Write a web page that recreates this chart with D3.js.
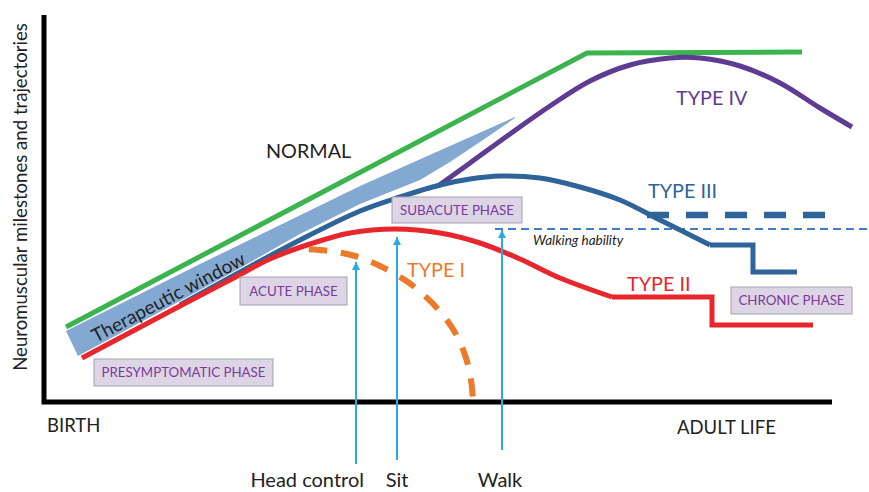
<!DOCTYPE html>
<html><head><meta charset="utf-8">
<script src="https://cdn.jsdelivr.net/npm/d3@7"></script>
<style>html,body{margin:0;padding:0;background:#fff;} svg{display:block;font-family:Lato, "Open Sans", sans-serif;}</style>
</head><body><svg id="c" width="869" height="492"></svg>
<script>
// ---- data (age units on x, milestone level on y) ----
const normal = [[2.2,7.5],[54.3,34.9],[75.8,35.0]];
const windowTop = [[2.2,7.1],[15.6,13.8],[31.6,21.6],[47.1,28.5]];
const windowBottom = [[47.1,28.4],[43.6,26.0],[40.6,24.0],[37.6,22.2],[31.6,19.8],[25.6,16.8],[19.6,13.4],[13.6,10.1],[3.4,4.6]];
const type2Curve = [[3.8,4.4],[13.6,9.6],[18.6,12.2],[22.6,14.3],[26.6,15.8],[30.6,16.9],[35.1,17.3],[39.6,16.9],[43.6,15.9],[47.6,14.3],[51.6,12.4],[56.8,10.5]];
const type2Tail = [[56.8,10.5],[66.8,10.5],[66.8,7.7],[76.9,7.7]];
const type3Curve = [[13.6,9.7],[19.6,13.0],[25.6,16.2],[31.6,19.1],[35.6,20.5],[39.6,21.7],[42.6,22.3],[45.6,22.6],[49.6,22.4],[53.6,21.5],[57.6,20.2],[61.6,18.2],[66.6,15.7]];
const type3Tail = [[66.6,15.7],[70.9,15.7],[70.9,13.0],[75.3,13.0]];
const type3Treated = [[60.3,18.7],[78.4,18.7]];
const type4 = [[39.4,21.6],[42.6,23.9],[46.6,26.8],[50.6,29.6],[54.6,32.1],[58.6,33.7],[62.6,34.4],[65.6,34.4],[69.6,33.6],[73.6,31.9],[77.6,29.4],[80.8,27.5]];
const type1 = [[26.1,15.3],[28.6,15.1],[31.1,14.6],[33.6,13.6],[36.1,12.2],[38.1,10.6],[39.9,8.7],[41.3,6.6],[42.2,4.4],[42.7,2.2],[42.9,0.2]];
const walkingLevel = 17.3;
const walkingRange = [45.1, 82.5];
const milestones = ["Head control","Sit","Walk"];
const milestoneAge = [31.2, 35.3, 45.8];
const milestoneLevel = [14.0, 16.5, 17.2];
const phases = ["PRESYMPTOMATIC PHASE","ACUTE PHASE","SUBACUTE PHASE","CHRONIC PHASE"];
const typeLabels = ["NORMAL","TYPE I","TYPE II","TYPE III","TYPE IV"];

// ---- scales ----
const svg = d3.select("#c");
const x = d3.scaleLinear().domain([0, 78.8]).range([44, 832]);
const y = d3.scaleLinear().domain([0, 38.7]).range([402, 15]);

const lineLin = d3.line().x(d=>x(d[0])).y(d=>y(d[1]));
const lineCurve = d3.line().x(d=>x(d[0])).y(d=>y(d[1])).curve(d3.curveCatmullRom.alpha(0.5));

const C = {green:"#3bb44f", purple:"#5f3c93", blue:"#2e6499", red:"#e8262d", orange:"#ec7a2a", arrow:"#2aaae2", band:"#83a9d3", walk:"#3f7fc8", text:"#222", phase:"#7b3a9b"};

// defs
svg.append("defs").append("marker").attr("id","ah").attr("viewBox","0 0 10 10")
  .attr("refX",10).attr("refY",5).attr("markerWidth",4).attr("markerHeight",4.5)
  .attr("markerUnits","strokeWidth").attr("orient","auto")
  .append("path").attr("d","M0,0 L10,5 L0,10 z").attr("fill",C.arrow);

// therapeutic window band
svg.append("path").attr("d", lineLin(windowTop.concat(windowBottom)) + "Z").attr("fill", C.band);

// normal
svg.append("path").attr("d", lineLin(normal)).attr("fill","none").attr("stroke",C.green).attr("stroke-width",5);

// walking ability line
svg.append("line").attr("x1",x(walkingRange[0])).attr("x2",x(walkingRange[1]))
  .attr("y1",y(walkingLevel)).attr("y2",y(walkingLevel))
  .attr("stroke",C.walk).attr("stroke-width",2).attr("stroke-dasharray","8,5");

// type IV
svg.append("path").attr("d", lineCurve(type4)).attr("fill","none").attr("stroke",C.purple).attr("stroke-width",5);
// type III
svg.append("path").attr("d", lineCurve(type3Curve)).attr("fill","none").attr("stroke",C.blue).attr("stroke-width",5);
svg.append("path").attr("d", lineLin(type3Tail)).attr("fill","none").attr("stroke",C.blue).attr("stroke-width",5);
svg.append("path").attr("d", lineLin(type3Treated)).attr("fill","none").attr("stroke",C.blue).attr("stroke-width",6.5).attr("stroke-dasharray","22,17");
// type II
svg.append("path").attr("d", lineCurve(type2Curve)).attr("fill","none").attr("stroke",C.red).attr("stroke-width",5);
svg.append("path").attr("d", lineLin(type2Tail)).attr("fill","none").attr("stroke",C.red).attr("stroke-width",5);
// type I
svg.append("path").attr("d", lineCurve(type1)).attr("fill","none").attr("stroke",C.orange).attr("stroke-width",6).attr("stroke-dasharray","18,14").attr("stroke-dashoffset",-4);

// axes
svg.append("path").attr("d",`M${x(0)},${y(38.7)} L${x(0)},${y(0)} M${x(0)-2.5},${y(0)} L${x(78.8)},${y(0)}`)
  .attr("fill","none").attr("stroke","#000").attr("stroke-width",5);

// milestone arrows
milestones.forEach((m,i)=>{
  svg.append("line").attr("x1",x(milestoneAge[i])).attr("x2",x(milestoneAge[i]))
    .attr("y1",[464,460,450][i]).attr("y2",y(milestoneLevel[i]))
    .attr("stroke",C.arrow).attr("stroke-width",2).attr("marker-end","url(#ah)");
});
const mlab = [{a:"end",dx:8},{a:"middle",dx:0},{a:"middle",dx:-2}];
milestones.forEach((m,i)=>{
  svg.append("text").attr("x",x(milestoneAge[i])+mlab[i].dx).attr("y",487)
    .attr("text-anchor",mlab[i].a).attr("font-size",20).attr("fill",C.text).text(m);
});

// phase boxes
const boxes = [[94,359,179,27],[240,277,107,28],[392,197,130,26],[731,287,121,27]];
phases.forEach((p,i)=>{
  const b = boxes[i];
  svg.append("rect").attr("x",b[0]).attr("y",b[1]).attr("width",b[2]).attr("height",b[3])
    .attr("fill","#ddd5e5").attr("stroke","#a59fae").attr("stroke-width",1);
  svg.append("text").attr("x",b[0]+b[2]/2).attr("y",b[1]+b[3]/2+4.8).attr("text-anchor","middle")
    .attr("font-size",13.3).attr("fill",C.phase).text(p);
});

// type labels
const tl = [[266,158,C.text],[407,277,C.orange],[627,291,C.red],[648,198,C.blue],[676,105,C.purple]];
typeLabels.forEach((t,i)=>{
  svg.append("text").attr("x",tl[i][0]).attr("y",tl[i][1]).attr("font-size",19.8).attr("fill",tl[i][2]).text(t);
});

// walking hability
svg.append("text").attr("x",533).attr("y",245).attr("font-size",13.5).attr("font-style","italic").attr("fill",C.text).text("Walking hability");

// axis end labels
svg.append("text").attr("x",47).attr("y",432).attr("font-size",18.5).attr("fill",C.text).text("BIRTH");
svg.append("text").attr("x",677).attr("y",434).attr("font-size",18.5).attr("fill",C.text).text("ADULT LIFE");

// y label
svg.append("text").attr("transform","translate(27,197) rotate(-90)").attr("text-anchor","middle")
  .attr("font-size",18.6).attr("fill",C.text).text("Neuromuscular milestones and trajectories");

// therapeutic window label
svg.append("text").attr("transform","translate(96,343) rotate(-27.8)").attr("font-size",19).attr("fill",C.text).text("Therapeutic window");
</script></body></html>
